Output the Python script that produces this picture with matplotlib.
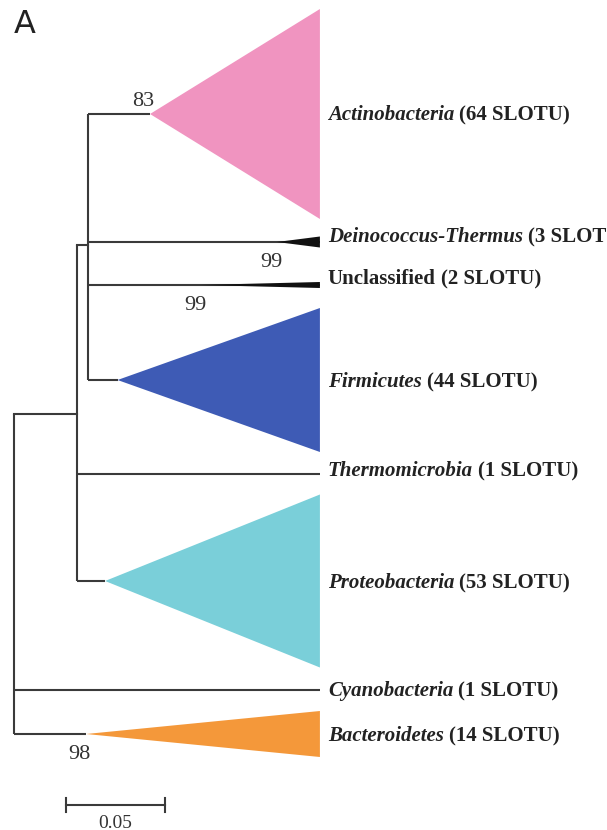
import matplotlib
matplotlib.use("Agg")
import matplotlib.pyplot as plt
from matplotlib.patches import Polygon

# ---- tree data (x in substitutions/site from root, y in row units) ----
clades = ["Actinobacteria", "Deinococcus-Thermus", "Unclassified", "Firmicutes",
          "Thermomicrobia", "Proteobacteria", "Cyanobacteria", "Bacteroidetes"]
slotu = [64, 3, 2, 44, 1, 53, 1, 14]
italic = [True, True, False, True, True, True, True, True]
clade_y = [114, 242, 285, 380, 474, 581, 690, 734]
label_y = [113, 235, 277, 380, 469, 581, 689, 734]
wedge_start = [0.0687, 0.1328, 0.0939, 0.0523, None, 0.0460, None, 0.0364]  # collapsed-clade apex
clade_half = [105, 5.5, 3, 72, 0, 86.5, 0, 23]
tip_x = 0.1545
colors = ["#F094C0", "#111111", "#111111", "#3E5BB5", None, "#7ACFD9", None, "#F4983A"]

# internal nodes: (x, y_top, y_bottom)
node_root = (0.0, 414, 734)
node_a = (0.0318, 245, 581)
node_b = (0.0374, 114, 380)
# parent node x for each clade
clade_parent = [0.0374, 0.0374, 0.0374, 0.0374, 0.0318, 0.0318, 0.0, 0.0]

bootstrap = [("83", 0.0652, 102), ("99", 0.1298, 262), ("99", 0.0914, 305), ("98", 0.0328, 754)]
scale_len = 0.05

PX = 1980.0  # pixels per unit branch length
X0 = 14

fig = plt.figure(figsize=(6.07, 8.30), dpi=100)
ax = fig.add_axes([0, 0, 1, 1])
ax.set_xlim(-X0 / PX, (607 - X0) / PX)
ax.set_ylim(830, 0)
ax.axis("off")

lc = "#3a3a3a"
lw = 1.5
tc = "#222222"
serif = ["Liberation Serif", "DejaVu Serif"]
fs = 15

# internal node connectors
ax.plot([node_root[0]] * 2, [node_root[1], node_root[2]], color=lc, lw=lw, solid_capstyle="butt")
ax.plot([node_root[0], node_a[0]], [node_root[1]] * 2, color=lc, lw=lw)
ax.plot([node_a[0]] * 2, [node_a[1], node_a[2]], color=lc, lw=lw, solid_capstyle="butt")
ax.plot([node_a[0], node_b[0]], [node_a[1]] * 2, color=lc, lw=lw)
ax.plot([node_b[0]] * 2, [node_b[1], node_b[2]], color=lc, lw=lw, solid_capstyle="butt")

name_texts = []
for i, name in enumerate(clades):
    y = clade_y[i]
    ws = wedge_start[i]
    big = ws is not None and clade_half[i] > 20
    ax.plot([clade_parent[i], ws if big else tip_x], [y, y],
            color=lc, lw=lw, solid_capstyle="butt", zorder=1)
    if ws is not None:
        tri = Polygon([[ws, y], [tip_x, y - clade_half[i]], [tip_x, y + clade_half[i]]],
                      closed=True, facecolor=colors[i], edgecolor="none", zorder=2)
        ax.add_patch(tri)
    t = ax.text(tip_x + 8 / PX, label_y[i] + 7, name,
                fontstyle="italic" if italic[i] else "normal",
                fontweight="bold", family=serif, fontsize=fs, va="baseline", ha="left",
                color=tc)
    name_texts.append(t)

# counts in upright bold after each name
fig.canvas.draw()
renderer = fig.canvas.get_renderer()
inv = ax.transData.inverted()
for t, n in zip(name_texts, slotu):
    bb = t.get_window_extent(renderer)
    x_end = inv.transform((bb.x1, bb.y0))[0]
    ax.text(x_end + 5 / PX, t.get_position()[1], f"({n} SLOTU)", family=serif,
            fontweight="bold", fontsize=fs, va="baseline", ha="left", color=tc)

# bootstrap support values
for val, bx, by in bootstrap:
    ax.text(bx, by, val, family=serif, fontsize=16, ha="center", va="center", color="#333333")

# scale bar
sx0 = 52 / PX
ax.plot([sx0, sx0 + scale_len], [805, 805], color=lc, lw=lw)
ax.plot([sx0, sx0], [798, 812], color=lc, lw=lw)
ax.plot([sx0 + scale_len] * 2, [798, 812], color=lc, lw=lw)
ax.text(sx0 + scale_len / 2, 823, f"{scale_len:.2f}", family=serif, fontsize=14,
        ha="center", va="center", color="#333333")

# panel letter
fig.text(25 / 607, 1 - 33 / 830, "A", fontsize=23, family="DejaVu Sans",
         ha="center", va="baseline", color="#222222")

fig.savefig("out.png", dpi=100)
